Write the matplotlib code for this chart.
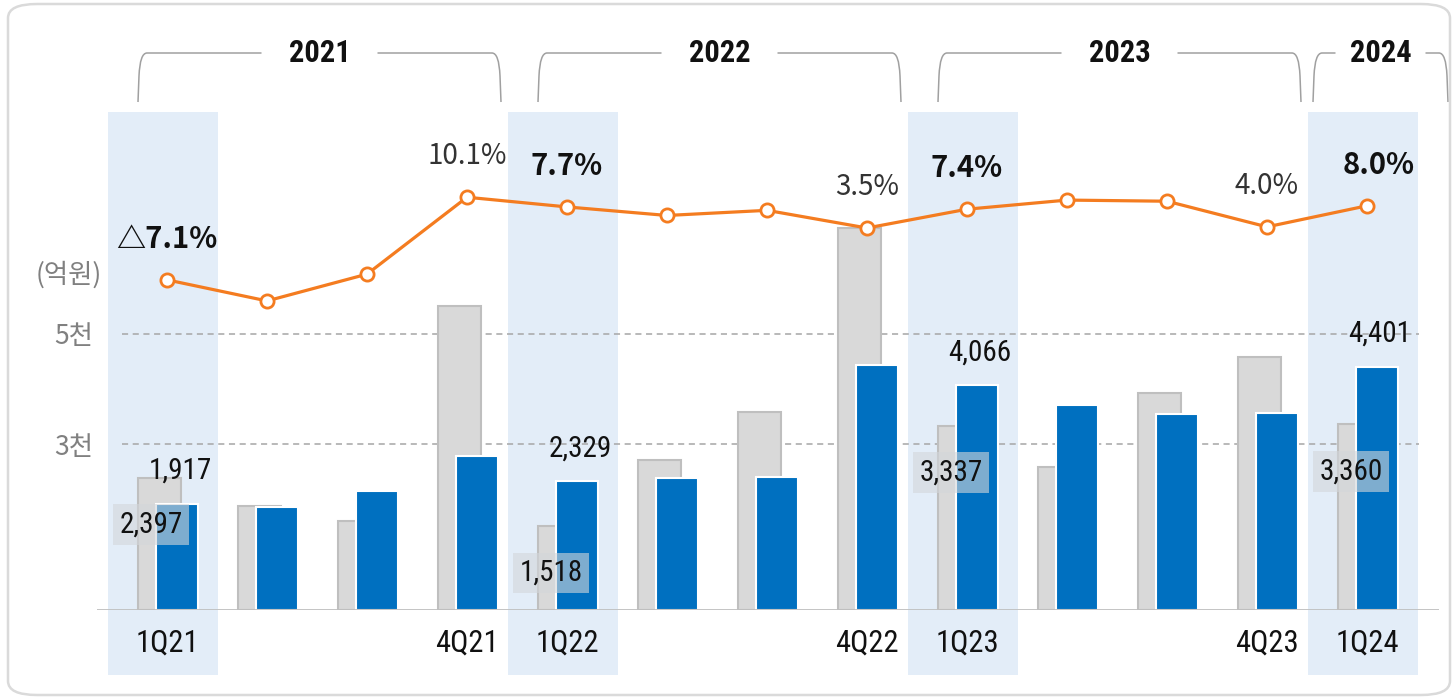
import matplotlib
matplotlib.use('Agg')
import matplotlib.pyplot as plt
import matplotlib.transforms as mtransforms
from matplotlib import font_manager
from matplotlib.patches import FancyBboxPatch, PathPatch
from matplotlib.path import Path

# ---- data (억원) ----
quarters = ['1Q21', '2Q21', '3Q21', '4Q21', '1Q22', '2Q22', '3Q22', '4Q22',
            '1Q23', '2Q23', '3Q23', '4Q23', '1Q24']
grey_vals = [2397, 1880, 1608, 5507, 1518, 2714, 3585, 6921, 3337, 2587, 3929, 4582, 3360]
blue_vals = [1917, 1862, 2152, 2787, 2329, 2388, 2406, 4437, 4066, 3712, 3548, 3567, 4401]
trend_vals = [5.79, 5.42, 5.89, 7.24, 7.07, 6.92, 7.01, 6.70, 7.03, 7.19, 7.17, 6.72, 7.09]
pct_quarters = ['1Q21', '4Q21', '1Q22', '4Q22', '1Q23', '4Q23', '1Q24']
pct_labels = ['△7.1%', '10.1%', '7.7%', '3.5%', '7.4%', '4.0%', '8.0%']
tick_quarters = ['1Q21', '4Q21', '1Q22', '4Q22', '1Q23', '4Q23', '1Q24']
highlight = ['1Q21', '1Q22', '1Q23', '1Q24']
grey_labelled = ['1Q21', '1Q22', '1Q23', '1Q24']
blue_labelled = ['1Q21', '1Q22', '1Q23', '1Q24']
years = ['2021', '2022', '2023', '2024']
y_ticks = [3000, 5000]
y_ticklabels = ['3천', '5천']

# ---- fonts ----
names = {f.name for f in font_manager.fontManager.ttflist}
NARROW = 'Liberation Sans'
for cand in ['Roboto Condensed', 'Open Sans Condensed', 'Archivo Narrow',
             'Asap Condensed', 'Liberation Sans Narrow']:
    if cand in names:
        NARROW = cand
        break
KR = 'Noto Sans CJK KR'
num_font = [NARROW, KR, 'DejaVu Sans']
kr_font = [KR, 'DejaVu Sans']
plt.rcParams['font.family'] = kr_font

BLUE = '#0070c0'
GREY = '#d9d9d9'
GREY_EDGE = '#bfbfbf'
ORANGE = '#f47c20'
BAND = '#e3edf8'

W, H = 1456, 699
fig = plt.figure(figsize=(W / 100, H / 100), dpi=100)
ax_l, ax_r, ax_b, ax_t = 97, 1439, 609.7, 40
ax = fig.add_axes([ax_l / W, (H - ax_b) / H, (ax_r - ax_l) / W, (ax_b - ax_t) / H])
ax.set_xlim(-0.70, 12.72)
ax.set_ylim(0, (ax_b - ax_t) / 0.05515)
for s in ax.spines.values():
    s.set_visible(False)

x = list(range(len(quarters)))
idx = {q: i for i, q in enumerate(quarters)}

# outer rounded frame
frame = FancyBboxPatch((8 / W, 4 / H), 1442 / W, 691 / H,
                       boxstyle='round,pad=0,rounding_size=0.02',
                       transform=fig.transFigure, fc='none', ec='#dadada', lw=1.8)
fig.patches.append(frame)

# highlight bands
for q in highlight:
    i = idx[q]
    ax.axvspan(i - 0.59, i + 0.51, ymin=(ax_b - 675) / (ax_b - ax_t),
               ymax=(ax_b - 112) / (ax_b - ax_t), color=BAND, lw=0, zorder=0, clip_on=False)

# gridlines and baseline
ax.hlines(y_ticks, -0.45, 12.52, colors='#a6a6a6', linestyles=(0, (4, 3)), lw=1.1, zorder=1)
ax.axhline(0, color=GREY_EDGE, lw=2, zorder=4)

# bars
ax.bar([i - 0.08 for i in x], grey_vals, width=0.43, color=GREY, edgecolor=GREY_EDGE,
       lw=1.5, zorder=2)
ax.bar([i + 0.10 for i in x], blue_vals, width=0.42, color=BLUE, edgecolor='white',
       lw=1.5, zorder=3)

# value labels
for q in blue_labelled:
    i = idx[q]
    ax.annotate(f'{blue_vals[i]:,}', (i + 0.10, blue_vals[i]), xytext=(3, 33),
                textcoords='offset pixels', ha='center', va='center', fontsize=21,
                family=num_font, color='#111111', zorder=6)
for q in grey_labelled:
    i = idx[q]
    ax.annotate(f'{grey_vals[i]:,}', (i - 0.08, grey_vals[i]), xytext=(-8, -47),
                textcoords='offset pixels', ha='center', va='center', fontsize=21,
                family=num_font, color='#111111', zorder=6,
                bbox=dict(boxstyle='square,pad=0.22', fc='#d3d6da', ec='none', alpha=0.6))

# y labels
ax.set_xticks([])
ax.set_yticks(y_ticks)
ax.set_yticklabels(y_ticklabels, fontsize=19, color='#808080')
ax.tick_params(axis='y', length=0, pad=3)
ax.annotate('(억원)', (0, (ax_b - 275) / 0.05515), xycoords=('axes fraction', 'data'),
            xytext=(5, 0), textcoords='offset pixels', ha='right', va='center',
            fontsize=19, color='#808080')

# x labels
for q in tick_quarters:
    ax.annotate(q, (idx[q], 0), xytext=(0, -33), textcoords='offset pixels',
                ha='center', va='center', fontsize=22, family=num_font, color='#111111')

# line on its own scale
ax2 = ax.twinx()
ax2.set_ylim(0, 10)
ax2.set_xlim(ax.get_xlim())
ax2.axis('off')
ax2.plot(x, trend_vals, color=ORANGE, lw=2.3, marker='o', ms=9.5, mfc='white',
         mec=ORANGE, mew=2, zorder=7)
for q, lab in zip(pct_quarters, pct_labels):
    i = idx[q]
    bold = q.startswith('1Q')
    dx = 12 if q == '1Q24' else 0
    ax2.annotate(lab, (i, trend_vals[i]), xytext=(dx, 41), textcoords='offset pixels',
                 ha='center', va='center', fontsize=21 if bold else 20,
                 fontweight='bold' if bold else 'normal',
                 color='#111111' if bold else '#333333')

# year brackets
trans = mtransforms.blended_transform_factory(ax.transData, ax.transAxes)
y_top = (ax_b - 53) / (ax_b - ax_t)
y_bot = (ax_b - 102) / (ax_b - ax_t)
for yr in years:
    members = [idx[q] for q in quarters if '20' + q[2:] == yr]
    if len(members) > 1:
        left, right, gap = members[0] - 0.29, members[-1] + 0.34, 0.58
    else:
        left, right, gap = members[0] - 0.54, members[0] + 0.81, 0.45
    mid = (left + right) / 2
    r = 0.09
    verts_l = [(left, y_bot), (left + 0.01, y_top - 0.04), (left + 0.02, y_top),
               (left + r, y_top), (mid - gap, y_top)]
    codes_l = [Path.MOVETO, Path.LINETO, Path.CURVE3, Path.CURVE3, Path.LINETO]
    verts_r = [(mid + gap, y_top), (right - r, y_top), (right - 0.02, y_top),
               (right - 0.01, y_top - 0.04), (right, y_bot)]
    codes_r = [Path.MOVETO, Path.LINETO, Path.CURVE3, Path.CURVE3, Path.LINETO]
    for v, c in ((verts_l, codes_l), (verts_r, codes_r)):
        ax.add_patch(PathPatch(Path(v, c), transform=trans, fc='none', ec='#a0a0a0',
                               lw=1.1, clip_on=False))
    ax.text(mid, y_top, yr, transform=trans, ha='center', va='center', fontsize=22,
            fontweight='semibold', family=num_font, color='#111111')

fig.savefig('out.png', dpi=100)
